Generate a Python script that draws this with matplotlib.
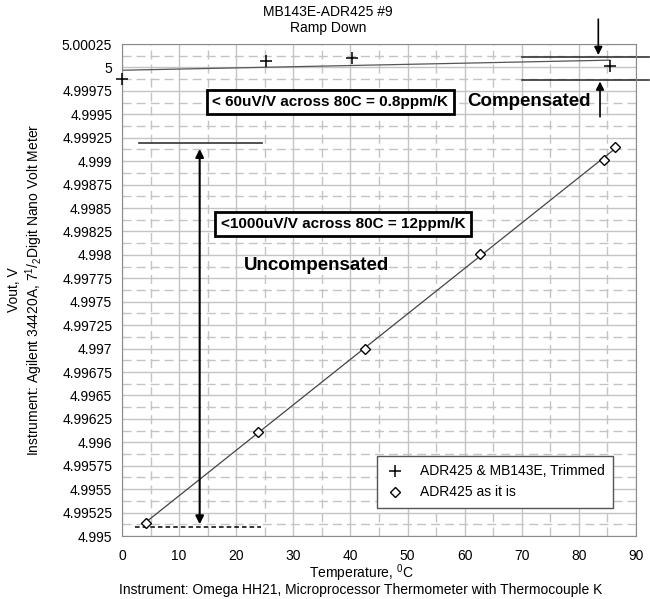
import numpy as np
import matplotlib
matplotlib.use('Agg')
import matplotlib.pyplot as plt
from matplotlib.ticker import MultipleLocator, FuncFormatter

plt.rcParams['font.family'] = ['Liberation Sans', 'DejaVu Sans']
plt.rcParams['mathtext.fontset'] = 'custom'
plt.rcParams['mathtext.rm'] = 'Liberation Sans'

# readings
trimmed_temp = [0.0, 25.3, 40.2, 85.4]
trimmed_vout = [4.99988, 5.00007, 5.00010, 5.00002]
asis_temp = [4.2, 23.8, 42.6, 62.7, 84.4, 86.4]
asis_vout = [4.99514, 4.99611, 4.99700, 4.99801, 4.99901, 4.99915]

xlim = (0, 90)
ylim = (4.995, 5.00025)

fig = plt.figure(figsize=(6.5, 5.99), dpi=100)
ax = fig.add_axes([122/650, 1-536/599, 514/650, 492/599])

ax.set_xlim(*xlim)
ax.set_ylim(*ylim)
ax.xaxis.set_major_locator(MultipleLocator(10))
ax.xaxis.set_minor_locator(MultipleLocator(5))
ax.yaxis.set_major_locator(MultipleLocator(0.00025))
ax.yaxis.set_minor_locator(MultipleLocator(0.000125))
ax.yaxis.set_major_formatter(FuncFormatter(lambda v, p: f'{v:.5f}'.rstrip('0').rstrip('.')))
ax.grid(True, which='major', color='#c4c4c4', lw=1, ls='-')
ax.grid(True, which='minor', color='#c4c4c4', lw=1, ls=(0, (6.5, 3.6)))
ax.set_axisbelow(True)
ax.tick_params(which='both', length=0, labelsize=10)
ax.tick_params(axis='y', pad=7)
ax.tick_params(axis='x', pad=9)
for s in ax.spines.values():
    s.set_color('#8a8a8a')

# trend lines
for tx, vy, c in [(trimmed_temp, trimmed_vout, '#555555'), (asis_temp, asis_vout, '#444444')]:
    k, b = np.polyfit(tx, vy, 1)
    xs = np.array([min(tx), max(tx)])
    ax.plot(xs, k*xs + b, color=c, lw=0.9, zorder=2)

ax.plot(trimmed_temp, trimmed_vout, ls='none', marker='+', ms=8, mew=1.1, color='black',
        clip_on=False, zorder=4, label='ADR425 & MB143E, Trimmed')
ax.plot(asis_temp, asis_vout, ls='none', marker='D', ms=5, mew=1, mfc='white', mec='black',
        clip_on=False, zorder=4, label='ADR425 as it is')

# uncompensated span
ax.plot([2.9, 24.6], [4.99919, 4.99919], color='#333333', lw=1.2)
ax.plot([2.2, 24.3], [4.995093, 4.995093], color='black', lw=1.1, ls=(0, (3, 2)))
ax.annotate('', xy=(13.6, 4.99913), xytext=(13.6, 4.995125),
            arrowprops=dict(arrowstyle='<|-|>', color='black', lw=1.5, mutation_scale=12, shrinkA=0, shrinkB=0))

# compensated span
ax.plot([70.1, 92.3], [5.000115, 5.000115], color='#333333', lw=1.2, clip_on=False)
ax.plot([70.1, 92.3], [4.999865, 4.999865], color='#333333', lw=1.2, clip_on=False)
ax.annotate('', xy=(83.4, 5.000132), xytext=(83.4, 5.000515), annotation_clip=False,
            arrowprops=dict(arrowstyle='-|>', color='black', lw=1.2, mutation_scale=12, shrinkA=0, shrinkB=0))
ax.annotate('', xy=(83.7, 4.99985), xytext=(83.7, 4.999473), annotation_clip=False,
            arrowprops=dict(arrowstyle='-|>', color='black', lw=1.2, mutation_scale=12, shrinkA=0, shrinkB=0))

box = dict(boxstyle='square,pad=0.35', fc='white', ec='black', lw=2)
ax.text(36.5, 4.99963, '< 60uV/V across 80C = 0.8ppm/K', ha='center', va='center',
        fontsize=11, fontweight='bold', bbox=box, zorder=5)
ax.text(38.7, 4.99833, '<1000uV/V across 80C = 12ppm/K', ha='center', va='center',
        fontsize=11, fontweight='bold', bbox=box, zorder=5)
ax.text(71.2, 4.99964, 'Compensated', ha='center', va='center', fontsize=13.5, fontweight='bold')
ax.text(34.0, 4.99789, 'Uncompensated', ha='center', va='center', fontsize=13.5, fontweight='bold')

leg = ax.legend(loc='lower right', bbox_to_anchor=(0.955, 0.0575), borderaxespad=0,
                fontsize=10, fancybox=False, framealpha=1, edgecolor='#555555',
                handlelength=1.5, handletextpad=1.0, borderpad=0.6)
leg.get_frame().set_linewidth(1)

fig.text(0.505, 1-12/599, 'MB143E-ADR425 #9', ha='center', va='center', fontsize=10)
fig.text(0.505, 1-28/599, 'Ramp Down', ha='center', va='center', fontsize=10)
fig.text(361/650, 1-573/599, 'Temperature, $^{\\mathregular{0}}$C', ha='center', va='center', fontsize=10)
fig.text(361/650, 1-590/599, 'Instrument: Omega HH21, Microprocessor Thermometer with Thermocouple K',
         ha='center', va='center', fontsize=10)
fig.text(26/650, 1-290/599,
         'Vout, V\nInstrument: Agilent 34420A, 7$^{\\mathregular{1}}$/$_{\\mathregular{2}}$Digit Nano Volt Meter',
         ha='center', va='center', rotation=90, fontsize=10, multialignment='center', linespacing=1.1)

fig.savefig('out.png', dpi=100)
